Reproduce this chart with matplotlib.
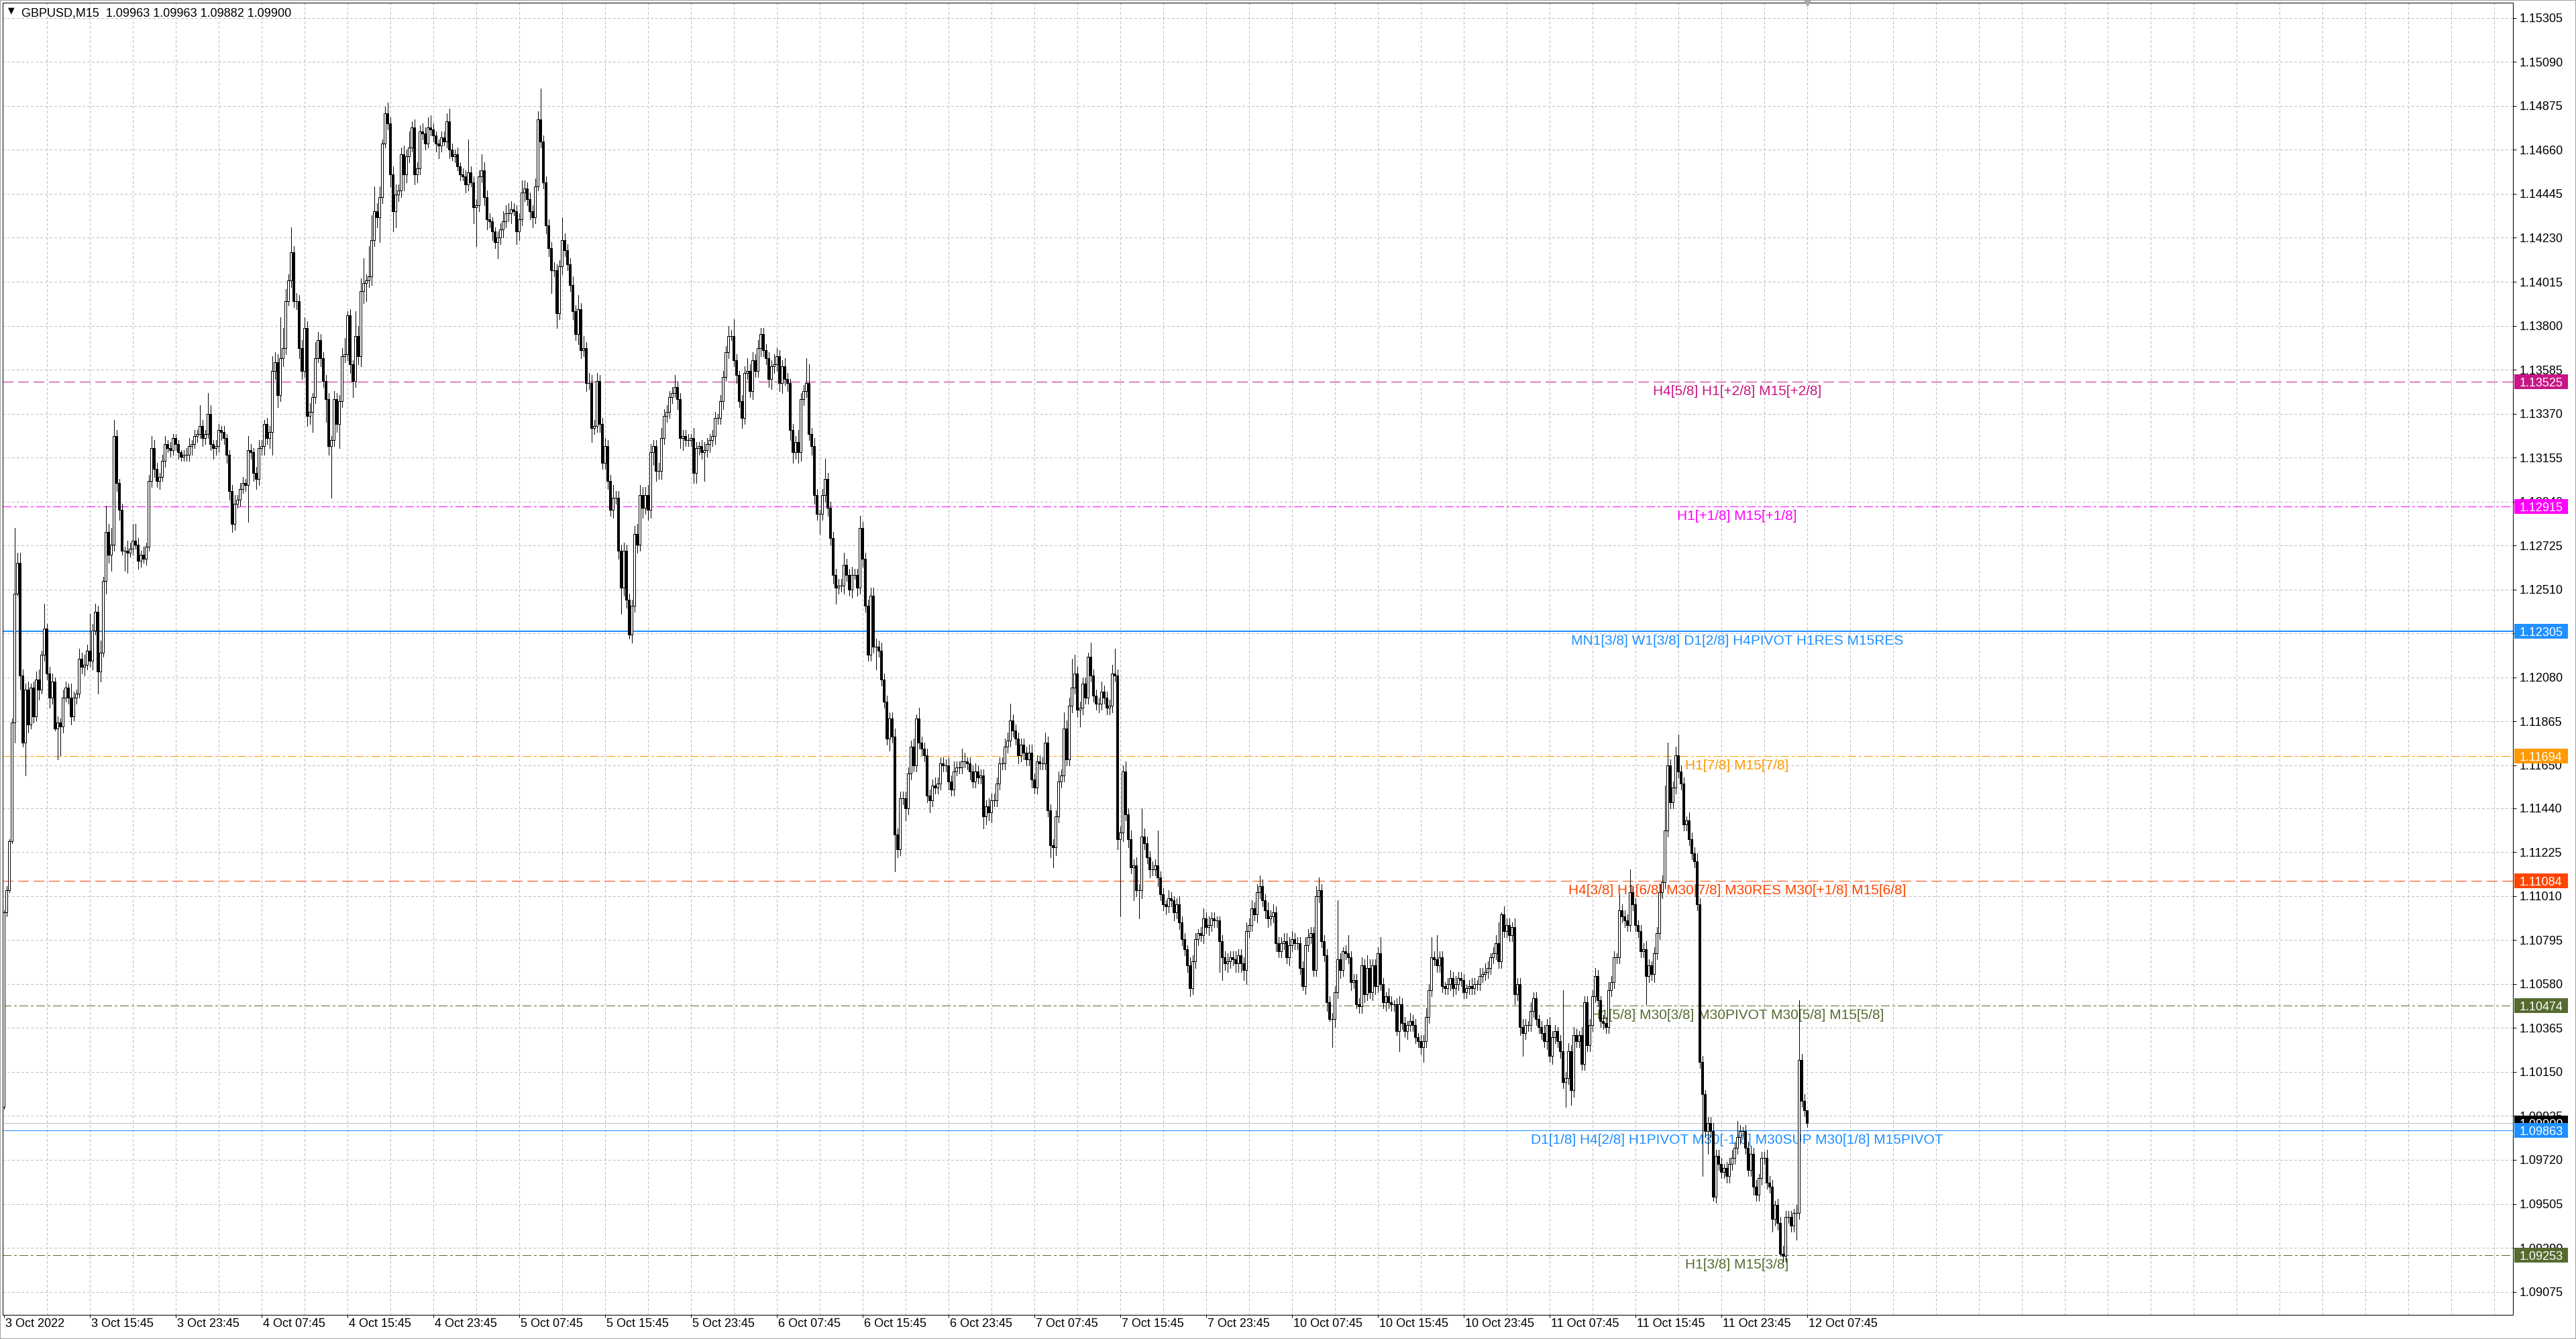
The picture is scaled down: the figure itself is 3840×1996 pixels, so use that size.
import matplotlib
matplotlib.use("Agg")
import matplotlib.pyplot as plt
from matplotlib.patches import Rectangle
import matplotlib.transforms as mtransforms
import numpy as np

plt.rcParams['font.family'] = ['Liberation Sans', 'DejaVu Sans']

# ---------------- data ----------------
symbol = "GBPUSD"
timeframe = "M15"
first_open = 1.0998

close = [
    1.1093, 1.1104, 1.1128, 1.1186, 1.1249, 1.1264, 1.1209, 1.1176, 1.1202, 1.1185, 1.1203, 1.1189, 1.1207, 1.1202, 1.1219, 1.1232,
    1.1210, 1.1198, 1.1206, 1.1183, 1.1186, 1.1184, 1.1198, 1.1203, 1.1198, 1.1189, 1.1198, 1.1200, 1.1217, 1.1213, 1.1214, 1.1221,
    1.1216, 1.1231, 1.1240, 1.1211, 1.1220, 1.1255, 1.1279, 1.1268, 1.1273, 1.1326, 1.1303, 1.1290, 1.1270, 1.1270, 1.1269, 1.1271,
    1.1275, 1.1273, 1.1265, 1.1268, 1.1266, 1.1272, 1.1304, 1.1320, 1.1310, 1.1304, 1.1306, 1.1314, 1.1322, 1.1320, 1.1319, 1.1325,
    1.1322, 1.1318, 1.1316, 1.1317, 1.1317, 1.1321, 1.1322, 1.1326, 1.1327, 1.1331, 1.1325, 1.1327, 1.1337, 1.1322, 1.1320, 1.1321,
    1.1329, 1.1328, 1.1325, 1.1317, 1.1299, 1.1283, 1.1293, 1.1295, 1.1300, 1.1303, 1.1302, 1.1319, 1.1318, 1.1308, 1.1305, 1.1320,
    1.1321, 1.1332, 1.1325, 1.1328, 1.1358, 1.1362, 1.1346, 1.1364, 1.1369, 1.1392, 1.1402, 1.1416, 1.1392, 1.1392, 1.1369, 1.1358,
    1.1379, 1.1336, 1.1338, 1.1345, 1.1364, 1.1373, 1.1364, 1.1353, 1.1344, 1.1321, 1.1324, 1.1344, 1.1332, 1.1343, 1.1365, 1.1366,
    1.1385, 1.1361, 1.1353, 1.1375, 1.1365, 1.1397, 1.1401, 1.1402, 1.1404, 1.1422, 1.1436, 1.1433, 1.1443, 1.1469, 1.1484, 1.1479,
    1.1454, 1.1436, 1.1444, 1.1446, 1.1464, 1.1454, 1.1463, 1.1467, 1.1477, 1.1454, 1.1457, 1.1475, 1.1474, 1.1469, 1.1477, 1.1476,
    1.1473, 1.1469, 1.1468, 1.1472, 1.1470, 1.1480, 1.1466, 1.1463, 1.1464, 1.1458, 1.1454, 1.1453, 1.1449, 1.1455, 1.1450, 1.1438,
    1.1439, 1.1453, 1.1456, 1.1443, 1.1432, 1.1431, 1.1426, 1.1421, 1.1423, 1.1427, 1.1431, 1.1435, 1.1435, 1.1437, 1.1436, 1.1426,
    1.1432, 1.1445, 1.1447, 1.1442, 1.1436, 1.1433, 1.1448, 1.1481, 1.1470, 1.1450, 1.1429, 1.1418, 1.1407, 1.1407, 1.1386, 1.1409,
    1.1422, 1.1417, 1.1410, 1.1400, 1.1387, 1.1376, 1.1388, 1.1368, 1.1369, 1.1352, 1.1352, 1.1330, 1.1331, 1.1353, 1.1332, 1.1313,
    1.1321, 1.1304, 1.1290, 1.1296, 1.1296, 1.1270, 1.1252, 1.1270, 1.1246, 1.1229, 1.1243, 1.1278, 1.1273, 1.1297, 1.1291, 1.1297,
    1.1290, 1.1318, 1.1321, 1.1309, 1.1309, 1.1325, 1.1336, 1.1338, 1.1345, 1.1347, 1.1350, 1.1344, 1.1325, 1.1326, 1.1324, 1.1324,
    1.1325, 1.1308, 1.1320, 1.1321, 1.1318, 1.1319, 1.1322, 1.1324, 1.1326, 1.1335, 1.1335, 1.1343, 1.1355, 1.1367, 1.1375, 1.1375,
    1.1363, 1.1356, 1.1343, 1.1335, 1.1357, 1.1358, 1.1348, 1.1363, 1.1358, 1.1369, 1.1376, 1.1368, 1.1364, 1.1354, 1.1360, 1.1361,
    1.1365, 1.1352, 1.1360, 1.1354, 1.1352, 1.1329, 1.1318, 1.1323, 1.1318, 1.1344, 1.1348, 1.1352, 1.1327, 1.1321, 1.1297, 1.1288,
    1.1288, 1.1297, 1.1305, 1.1291, 1.1276, 1.1258, 1.1252, 1.1253, 1.1253, 1.1263, 1.1258, 1.1251, 1.1258, 1.1258, 1.1252, 1.1281,
    1.1266, 1.1243, 1.1219, 1.1248, 1.1223, 1.1223, 1.1221, 1.1207, 1.1196, 1.1178, 1.1188, 1.1179, 1.1131, 1.1124, 1.1149, 1.1149,
    1.1144, 1.1161, 1.1174, 1.1165, 1.1188, 1.1176, 1.1173, 1.1170, 1.1150, 1.1148, 1.1155, 1.1154, 1.1156, 1.1166, 1.1165, 1.1165,
    1.1157, 1.1153, 1.1162, 1.1164, 1.1164, 1.1167, 1.1167, 1.1166, 1.1162, 1.1157, 1.1162, 1.1159, 1.1160, 1.1140, 1.1145, 1.1142,
    1.1148, 1.1148, 1.1156, 1.1166, 1.1166, 1.1174, 1.1177, 1.1187, 1.1182, 1.1178, 1.1170, 1.1175, 1.1171, 1.1168, 1.1171, 1.1158,
    1.1154, 1.1167, 1.1166, 1.1166, 1.1176, 1.1143, 1.1126, 1.1125, 1.1140, 1.1157, 1.1160, 1.1183, 1.1168, 1.1194, 1.1203, 1.1210,
    1.1192, 1.1193, 1.1205, 1.1198, 1.1218, 1.1209, 1.1199, 1.1195, 1.1195, 1.1201, 1.1198, 1.1193, 1.1194, 1.1210, 1.1209, 1.1129,
    1.1132, 1.1162, 1.1141, 1.1129, 1.1115, 1.1116, 1.1104, 1.1104, 1.1130, 1.1127, 1.1120, 1.1114, 1.1114, 1.1116, 1.1110, 1.1102,
    1.1097, 1.1096, 1.1100, 1.1099, 1.1093, 1.1097, 1.1088, 1.1080, 1.1075, 1.1067, 1.1056, 1.1069, 1.1080, 1.1083, 1.1082, 1.1090,
    1.1086, 1.1087, 1.1090, 1.1089, 1.1089, 1.1079, 1.1071, 1.1068, 1.1069, 1.1071, 1.1070, 1.1068, 1.1072, 1.1068, 1.1065, 1.1084,
    1.1087, 1.1095, 1.1092, 1.1103, 1.1106, 1.1099, 1.1094, 1.1090, 1.1091, 1.1093, 1.1078, 1.1074, 1.1078, 1.1079, 1.1071, 1.1077,
    1.1080, 1.1078, 1.1078, 1.1066, 1.1057, 1.1077, 1.1081, 1.1083, 1.1065, 1.1101, 1.1104, 1.1079, 1.1072, 1.1049, 1.1041, 1.1041,
    1.1054, 1.1070, 1.1065, 1.1074, 1.1073, 1.1071, 1.1059, 1.1060, 1.1048, 1.1047, 1.1067, 1.1053, 1.1066, 1.1054, 1.1067, 1.1057,
    1.1073, 1.1058, 1.1049, 1.1052, 1.1049, 1.1048, 1.1048, 1.1035, 1.1048, 1.1039, 1.1035, 1.1038, 1.1040, 1.1038, 1.1032, 1.1030,
    1.1027, 1.1030, 1.1042, 1.1055, 1.1071, 1.1070, 1.1067, 1.1071, 1.1057, 1.1056, 1.1058, 1.1061, 1.1056, 1.1058, 1.1061, 1.1060,
    1.1054, 1.1056, 1.1057, 1.1056, 1.1058, 1.1058, 1.1062, 1.1063, 1.1064, 1.1066, 1.1071, 1.1073, 1.1078, 1.1069, 1.1092, 1.1084,
    1.1087, 1.1082, 1.1086, 1.1053, 1.1058, 1.1037, 1.1034, 1.1038, 1.1038, 1.1045, 1.1051, 1.1041, 1.1037, 1.1034, 1.1030, 1.1038,
    1.1023, 1.1032, 1.1035, 1.1030, 1.1025, 1.1010, 1.1012, 1.1025, 1.1006, 1.1033, 1.1030, 1.1033, 1.1019, 1.1049, 1.1028, 1.1038,
    1.1052, 1.1062, 1.1050, 1.1040, 1.1039, 1.1037, 1.1055, 1.1059, 1.1071, 1.1071, 1.1094, 1.1091, 1.1089, 1.1087, 1.1103, 1.1097,
    1.1087, 1.1084, 1.1074, 1.1075, 1.1062, 1.1067, 1.1063, 1.1073, 1.1083, 1.1103, 1.1108, 1.1133, 1.1165, 1.1147, 1.1154, 1.1170,
    1.1162, 1.1156, 1.1136, 1.1138, 1.1129, 1.1122, 1.1118, 1.1097, 1.1020, 1.1004, 1.0986, 1.0990, 1.0986, 1.0954, 1.0974, 1.0970,
    1.0966, 1.0968, 1.0964, 1.0970, 1.0973, 1.0978, 1.0983, 1.0986, 1.0986, 1.0978, 1.0967, 1.0975, 1.0959, 1.0955, 1.0963, 1.0973,
    1.0973, 1.0961, 1.0959, 1.0943, 1.0950, 1.0941, 1.0926, 1.0925, 1.0944, 1.0944, 1.0940, 1.0946, 1.0946, 1.1021, 1.1001, 1.09963,
    1.09900,
]

# upper / lower shadow lengths beyond the body, in pips
wick_up = [
    1, 2, 1, 2, 32, 5, 5, 3, 3, 4, 2, 3, 4, 5, 2, 12,
    2, 3, 4, 2, 3, 2, 4, 3, 2, 7, 3, 2, 5, 3, 5, 3,
    18, 3, 4, 3, 6, 2, 13, 4, 8, 8, 3, 2, 3, 2, 5, 3,
    8, 8, 3, 2, 4, 2, 3, 6, 4, 3, 2, 3, 4, 2, 3, 2,
    2, 2, 1, 2, 3, 4, 2, 3, 2, 10, 3, 2, 10, 4, 2, 3,
    3, 2, 3, 2, 2, 3, 4, 2, 3, 3, 2, 7, 3, 2, 3, 4,
    3, 2, 3, 3, 7, 5, 4, 20, 10, 6, 3, 12, 3, 4, 3, 4,
    5, 3, 4, 2, 8, 4, 3, 3, 3, 3, 2, 4, 3, 3, 4, 8,
    2, 3, 2, 12, 5, 6, 12, 3, 15, 12, 12, 4, 5, 2, 3, 5,
    3, 4, 5, 3, 3, 4, 3, 8, 3, 4, 3, 3, 4, 3, 5, 6,
    3, 2, 2, 3, 3, 4, 6, 3, 2, 3, 2, 3, 3, 16, 3, 3,
    3, 3, 8, 4, 3, 3, 2, 2, 3, 3, 5, 4, 5, 4, 3, 3,
    3, 6, 4, 3, 3, 3, 4, 4, 15, 3, 3, 3, 3, 4, 3, 3,
    11, 3, 3, 3, 4, 3, 7, 3, 6, 3, 5, 4, 3, 4, 3, 3,
    4, 3, 3, 6, 3, 3, 3, 4, 3, 3, 3, 4, 5, 5, 4, 4,
    5, 4, 3, 3, 4, 5, 3, 3, 3, 3, 6, 3, 3, 3, 3, 3,
    2, 5, 3, 2, 3, 4, 3, 3, 3, 3, 2, 3, 3, 3, 5, 3,
    8, 3, 2, 3, 3, 6, 3, 4, 3, 4, 3, 3, 3, 3, 3, 5,
    4, 3, 3, 4, 3, 2, 3, 3, 6, 3, 3, 12, 9, 3, 4, 3,
    2, 3, 10, 3, 3, 3, 3, 3, 3, 6, 3, 3, 4, 3, 3, 6,
    3, 3, 3, 4, 4, 4, 3, 4, 3, 3, 3, 3, 4, 3, 3, 3,
    3, 3, 3, 4, 2, 5, 3, 3, 3, 3, 3, 4, 3, 3, 3, 3,
    4, 3, 5, 3, 3, 6, 4, 2, 3, 3, 4, 3, 3, 3, 3, 4,
    3, 3, 3, 3, 3, 4, 4, 8, 3, 3, 3, 3, 3, 3, 4, 4,
    3, 3, 3, 3, 5, 3, 3, 3, 3, 5, 3, 8, 4, 4, 14, 9,
    3, 3, 3, 3, 2, 7, 3, 3, 3, 5, 3, 3, 3, 4, 12, 3,
    3, 3, 5, 3, 4, 3, 4, 3, 14, 4, 3, 3, 4, 3, 17, 3,
    3, 2, 4, 3, 2, 3, 4, 3, 3, 2, 4, 3, 3, 2, 3, 5,
    3, 4, 3, 3, 2, 2, 3, 3, 4, 3, 3, 4, 3, 3, 3, 4,
    3, 4, 3, 4, 5, 3, 3, 4, 3, 4, 3, 3, 3, 4, 4, 4,
    4, 3, 3, 3, 3, 4, 4, 3, 3, 5, 6, 3, 3, 3, 3, 3,
    3, 29, 3, 2, 3, 9, 3, 3, 3, 3, 4, 3, 6, 4, 3, 3,
    3, 8, 3, 2, 4, 3, 2, 3, 4, 3, 3, 2, 4, 3, 3, 2,
    3, 3, 4, 3, 10, 3, 12, 3, 3, 2, 3, 4, 3, 4, 3, 3,
    3, 2, 3, 4, 3, 2, 4, 3, 4, 3, 2, 3, 4, 10, 1, 4,
    3, 3, 2, 4, 3, 3, 4, 3, 2, 4, 3, 3, 2, 3, 4, 3,
    4, 3, 3, 2, 3, 30, 3, 4, 3, 4, 3, 2, 4, 3, 3, 3,
    3, 4, 3, 2, 3, 3, 4, 3, 3, 2, 8, 3, 3, 3, 11, 3,
    3, 2, 3, 3, 4, 3, 2, 3, 3, 4, 3, 22, 11, 3, 3, 4,
    10, 3, 3, 2, 4, 3, 3, 4, 3, 3, 2, 3, 3, 4, 3, 3,
    3, 2, 3, 3, 4, 3, 8, 3, 2, 3, 3, 4, 3, 3, 2, 3,
    3, 4, 3, 3, 2, 3, 3, 4, 3, 3, 3, 2, 4, 29, 3, 3,
    0,
]
wick_dn = [
    1, 2, 1, 1, 10, 1, 7, 2, 16, 4, 2, 3, 2, 5, 2, 3,
    3, 5, 3, 1, 15, 14, 3, 2, 3, 4, 2, 3, 2, 3, 4, 2,
    3, 4, 2, 11, 5, 2, 6, 4, 8, 3, 4, 5, 2, 10, 10, 2,
    3, 2, 4, 3, 2, 3, 2, 3, 4, 3, 4, 2, 3, 2, 3, 2,
    3, 3, 2, 2, 3, 3, 4, 2, 3, 2, 4, 3, 2, 3, 5, 3,
    3, 4, 3, 4, 4, 4, 3, 2, 3, 2, 3, 18, 3, 4, 5, 3,
    3, 4, 3, 5, 11, 4, 6, 3, 4, 3, 2, 3, 3, 4, 5, 4,
    3, 5, 4, 10, 3, 2, 4, 3, 11, 4, 25, 3, 4, 12, 3, 3,
    3, 4, 8, 3, 4, 5, 6, 9, 3, 4, 3, 5, 12, 3, 2, 3,
    6, 10, 8, 3, 3, 8, 4, 3, 2, 5, 4, 3, 3, 3, 2, 3,
    3, 4, 6, 3, 2, 3, 4, 2, 3, 2, 3, 2, 4, 3, 2, 8,
    19, 3, 3, 4, 5, 3, 4, 3, 8, 3, 4, 3, 4, 5, 2, 6,
    4, 3, 4, 3, 4, 5, 3, 2, 3, 3, 4, 4, 11, 3, 7, 3,
    4, 3, 3, 3, 4, 3, 5, 4, 3, 4, 3, 7, 3, 3, 4, 3,
    3, 4, 3, 4, 3, 4, 13, 4, 4, 2, 4, 3, 4, 3, 5, 3,
    5, 4, 6, 5, 4, 4, 3, 3, 3, 3, 2, 5, 5, 6, 3, 3,
    3, 5, 5, 3, 3, 14, 3, 4, 3, 4, 3, 3, 4, 2, 3, 2,
    3, 4, 3, 5, 3, 3, 3, 4, 3, 3, 4, 3, 3, 4, 5, 3,
    3, 4, 5, 3, 4, 5, 5, 3, 5, 4, 3, 3, 3, 4, 4, 3,
    10, 3, 3, 4, 3, 4, 8, 3, 3, 4, 3, 3, 4, 2, 4, 3,
    4, 3, 3, 3, 3, 11, 3, 3, 3, 3, 6, 3, 18, 4, 3, 3,
    6, 3, 3, 3, 3, 3, 3, 3, 3, 6, 3, 3, 3, 3, 3, 3,
    4, 3, 3, 2, 3, 3, 3, 3, 4, 3, 3, 3, 3, 6, 4, 4,
    5, 3, 3, 3, 3, 3, 3, 3, 3, 3, 4, 3, 3, 3, 3, 4,
    3, 3, 3, 3, 3, 3, 6, 10, 4, 3, 3, 3, 3, 3, 3, 3,
    3, 8, 3, 3, 3, 3, 3, 3, 4, 3, 3, 3, 3, 3, 3, 5,
    38, 4, 3, 4, 3, 16, 3, 14, 4, 3, 3, 4, 3, 3, 4, 3,
    3, 4, 3, 3, 4, 3, 3, 3, 3, 3, 4, 3, 3, 3, 3, 4,
    3, 4, 3, 3, 3, 15, 11, 3, 4, 3, 3, 4, 4, 4, 5, 7,
    3, 3, 3, 4, 3, 3, 4, 4, 3, 3, 4, 3, 3, 3, 3, 4,
    3, 3, 3, 3, 2, 4, 3, 3, 3, 3, 3, 3, 3, 4, 1, 14,
    4, 3, 4, 3, 3, 3, 4, 3, 2, 3, 3, 4, 3, 3, 4, 4,
    3, 3, 3, 4, 3, 3, 3, 2, 10, 3, 3, 4, 3, 3, 3, 3,
    3, 7, 3, 3, 3, 3, 3, 3, 3, 3, 3, 3, 4, 3, 3, 3,
    3, 3, 3, 3, 3, 3, 3, 3, 3, 3, 3, 3, 3, 3, 3, 3,
    3, 3, 3, 5, 3, 4, 11, 3, 3, 3, 3, 3, 3, 3, 3, 4,
    3, 4, 3, 3, 3, 3, 12, 3, 7, 3, 3, 3, 3, 3, 3, 3,
    3, 3, 3, 3, 3, 3, 3, 3, 3, 3, 3, 3, 3, 3, 3, 3,
    3, 3, 3, 3, 14, 3, 3, 4, 3, 3, 3, 3, 3, 3, 3, 3,
    3, 3, 3, 3, 3, 3, 3, 3, 3, 40, 3, 11, 3, 2, 3, 3,
    3, 3, 3, 3, 3, 3, 3, 3, 3, 3, 3, 3, 4, 3, 3, 3,
    3, 3, 3, 6, 3, 3, 1, 3, 3, 3, 3, 3, 13, 3, 3, 3,
    1.8,
]

time_labels = [
    "3 Oct 2022", "3 Oct 15:45", "3 Oct 23:45", "4 Oct 07:45", "4 Oct 15:45", "4 Oct 23:45",
    "5 Oct 07:45", "5 Oct 15:45", "5 Oct 23:45", "6 Oct 07:45", "6 Oct 15:45", "6 Oct 23:45",
    "7 Oct 07:45", "7 Oct 15:45", "7 Oct 23:45", "10 Oct 07:45", "10 Oct 15:45", "10 Oct 23:45",
    "11 Oct 07:45", "11 Oct 15:45", "11 Oct 23:45", "12 Oct 07:45",
]

price_ticks = [
    1.15305, 1.15090, 1.14875, 1.14660, 1.14445, 1.14230, 1.14015, 1.13800, 1.13585, 1.13370,
    1.13155, 1.12940, 1.12725, 1.12510, 1.12295, 1.12080, 1.11865, 1.11650, 1.11440, 1.11225,
    1.11010, 1.10795, 1.10580, 1.10365, 1.10150, 1.09935, 1.09720, 1.09505, 1.09290, 1.09075,
]

level_prices = [1.13525, 1.12915, 1.12305, 1.11694, 1.11084, 1.10474, 1.09863, 1.09253]
level_texts = [
    "H4[5/8] H1[+2/8] M15[+2/8]",
    "H1[+1/8] M15[+1/8]",
    "MN1[3/8] W1[3/8] D1[2/8] H4PIVOT H1RES M15RES",
    "H1[7/8] M15[7/8]",
    "H4[3/8] H1[6/8] M30[7/8] M30RES M30[+1/8] M15[6/8]",
    "H1[5/8] M30[3/8] M30PIVOT M30[5/8] M15[5/8]",
    "D1[1/8] H4[2/8] H1PIVOT M30[-1/8] M30SUP M30[1/8] M15PIVOT",
    "H1[3/8] M15[3/8]",
]
level_colors = ["#C71585", "#FF00FF", "#1E90FF", "#FF9900", "#FF4500", "#556B2F", "#1E90FF", "#556B2F"]
level_styles = ["dash", "dashdot", "solid", "dashdot", "dash", "dashdot", "solid", "dashdot"]
level_widths = [1, 1, 2, 1, 1, 1, 1, 1]

# ---------------- layout (pixels of the 3840x1996 canvas) ----------------
W, H, DPI = 3840, 1996, 100
PX = 72.0 / DPI
X0_PX, X1_PX = 3.5, 3746.0
Y0_PX, Y1_PX = 4.0, 1960.0
BAR0_PX, BAR_PX = 5.5, 4.0
Y_TOP, Y_BOT = 1.15380, 1.08962
LABEL_STEP, GRID_STEP = 32, 16
TEXT_BAR = 646
FS = 13

fig = plt.figure(figsize=(W / DPI, H / DPI), dpi=DPI, facecolor="white")
ax = fig.add_axes([X0_PX / W, 1 - Y1_PX / H, (X1_PX - X0_PX) / W, (Y1_PX - Y0_PX) / H])
ax.set_facecolor("white")

n = min(len(close), len(wick_up), len(wick_dn))
c = np.array(close[:n], dtype=float)
o = np.concatenate([[first_open], c[:-1]])
up = np.array(wick_up[:n], dtype=float) * 1e-4
dn = np.array(wick_dn[:n], dtype=float) * 1e-4
top = np.maximum(o, c)
bot = np.minimum(o, c)
hi = top + up
lo = bot - dn
idx = np.arange(n)

# candles
ax.vlines(idx, lo, hi, colors="black", linewidth=PX, antialiased=False, zorder=3)
fill = ["white" if cc > oo else "black" for oo, cc in zip(o, c)]
ax.bar(idx, top - bot, bottom=bot, width=0.72, color=fill, edgecolor="black",
       linewidth=PX, antialiased=False, zorder=4)

xlim = ((X0_PX - BAR0_PX) / BAR_PX, (X1_PX - BAR0_PX) / BAR_PX)
ax.set_xlim(*xlim)
ax.set_ylim(Y_BOT, Y_TOP)

# axes / grid
ax.set_xticks(np.arange(len(time_labels)) * LABEL_STEP)
ax.set_xticklabels(time_labels)
ax.xaxis.remove_overlapping_locs = False
ax.set_xticks(np.arange(GRID_STEP, xlim[1], GRID_STEP), minor=True)
ax.set_yticks(price_ticks)
ax.set_yticklabels([f"{p:.5f}" for p in price_ticks])
ax.yaxis.tick_right()
ax.set_axisbelow(True)
ax.xaxis.grid(True, which="minor", color="#BEBEBE", linestyle=(0, (4, 3)), linewidth=PX, antialiased=False)
ax.xaxis.grid(False, which="major")
ax.yaxis.grid(True, which="major", color="#BEBEBE", linestyle=(0, (3, 3)), linewidth=PX, antialiased=False)
ax.tick_params(axis="x", which="major", length=4 * PX, width=PX, pad=1, labelsize=FS)
ax.tick_params(axis="x", which="minor", length=0)
ax.tick_params(axis="y", which="major", length=5 * PX, width=PX, pad=5 * PX, labelsize=FS)
for sp in ax.spines.values():
    sp.set_color("black")
    sp.set_linewidth(PX)
off = mtransforms.ScaledTranslation(2 / DPI, 0, fig.dpi_scale_trans)
for lbl in ax.get_xticklabels():
    lbl.set_horizontalalignment("left")
    lbl.set_transform(lbl.get_transform() + off)

# level lines and labels
styles = {"dash": (0, (16, 8)), "dashdot": (0, (12, 5, 3, 5)), "solid": "-"}
ax.axhline(c[-1], color="#C0C0C0", linewidth=PX, antialiased=False, zorder=1.4)
for p, col, st, w in zip(level_prices, level_colors, level_styles, level_widths):
    ax.axhline(p, color=col, linestyle=styles[st], linewidth=w * PX, antialiased=False, zorder=1.5)
for p, t, col in zip(level_prices, level_texts, level_colors):
    ax.annotate(t, xy=(TEXT_BAR, p), xytext=(0, -20), textcoords="offset pixels",
                ha="center", va="baseline", color=col, fontsize=15, zorder=2)

# price boxes on the right scale
px_per_price = (Y1_PX - Y0_PX) / (Y_TOP - Y_BOT)
box_h = 22 / px_per_price
btrans = mtransforms.blended_transform_factory(fig.transFigure, ax.transData)


def price_box(p, col, z):
    r = Rectangle((3748 / W, p - box_h / 2), 80 / W, box_h, transform=btrans,
                  facecolor=col, edgecolor="none", clip_on=False, zorder=z)
    ax.add_artist(r)
    ax.text(3756 / W, p, f"{p:.5f}", transform=btrans, color="white", fontsize=FS,
            ha="left", va="center_baseline", clip_on=False, zorder=z + 0.1)


price_box(c[-1], "black", 10)
for k, (p, col) in enumerate(zip(level_prices, level_colors)):
    price_box(p, col, 11 + k)

# header text
fig.text(12 / W, 1 - 16 / H, "\u25bc", family="DejaVu Sans", fontsize=9, va="center", ha="left")
fig.text(32 / W, 1 - 20 / H,
         f"{symbol},{timeframe}  {o[-1]:.5f} {hi[-1]:.5f} {lo[-1]:.5f} {c[-1]:.5f}",
         fontsize=FS, va="center", ha="left")

# chart shift marker at the top
mtrans = mtransforms.blended_transform_factory(ax.transData, fig.transFigure)
ax.plot([n - 1], [1 - 3 / H], marker="v", markersize=9, color="#A8A8A8",
        transform=mtrans, clip_on=False, zorder=20)

# window border
fig.patches.append(Rectangle((0, 0), 1, 1, transform=fig.transFigure, fill=False,
                             edgecolor="#A0A0A0", linewidth=2 * PX))

fig.savefig("out.png", dpi=DPI, facecolor="white")
